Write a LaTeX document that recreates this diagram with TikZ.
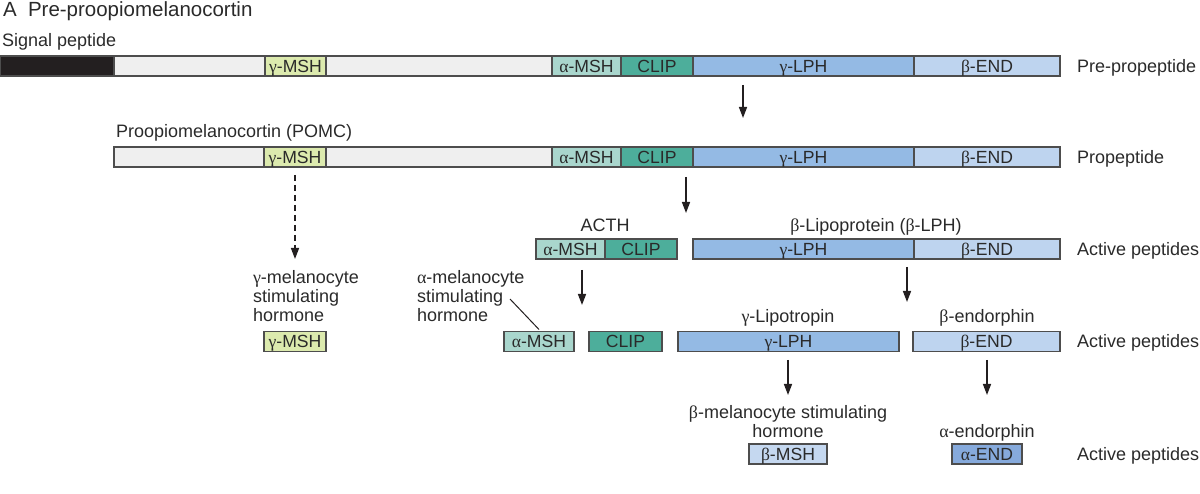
\documentclass[tikz,border=0pt]{standalone}
\usepackage{fontspec}
\setmainfont{Liberation Sans}
\newfontfamily\grkfont{Liberation Serif}
\usetikzlibrary{arrows.meta}
\newcommand\gAl{{\grkfont α}}
\newcommand\gBe{{\grkfont β}}
\newcommand\gGa{{\grkfont γ}}
\definecolor{txt}{HTML}{2A2A2A}
\definecolor{edge}{HTML}{4D4D4D}
\definecolor{sig}{HTML}{231F20}
\definecolor{pro}{HTML}{EFEFEF}
\definecolor{gmsh}{HTML}{DCEAAE}
\definecolor{amsh}{HTML}{A9D6CD}
\definecolor{clip}{HTML}{4DAE9B}
\definecolor{glph}{HTML}{94BAE4}
\definecolor{bend}{HTML}{BED4EF}
\definecolor{bmsh}{HTML}{C5D8F0}
\definecolor{aend}{HTML}{86AADC}
\tikzset{
  seg/.style={draw=edge, line width=1.2pt, minimum height=20pt, inner sep=0pt, outer sep=0pt,
    text height=12.8pt, text depth=0pt, font=\fontsize{17.6}{19}\selectfont, text=txt},
  lbl/.style={font=\fontsize{18}{19}\selectfont, text=txt, inner sep=0pt, outer sep=0pt},
  ttl/.style={font=\fontsize{20.5}{22}\selectfont, text=txt, inner sep=0pt, outer sep=0pt},
  arr/.style={line width=1.5pt, draw=sig, -{Triangle[length=11pt,width=8pt]}},
  darr/.style={arr, dash pattern=on 6pt off 4pt},
  lead/.style={line width=1pt, draw=sig}
}
\begin{document}
\begin{tikzpicture}[x=1pt,y=-1pt]
\useasboundingbox (0,0) rectangle (1200,494);
% title
\node[ttl, anchor=base west] (tA) at (3,17) {A};
\node[ttl, anchor=base west] (tT) at (28,17) {Pre-proopiomelanocortin};
\node[lbl, anchor=base west] (tSig) at (2,47) {Signal peptide};
% bar 1
\node[seg, fill=sig, minimum width=113pt] (sig1) at (57.1,66) {};
\node[seg, fill=pro, minimum width=151pt] (pa1) at (189.5,66) {};
\node[seg, fill=gmsh, minimum width=61pt] (gm1) at (295.5,66) {\gGa-MSH};
\node[seg, fill=pro, minimum width=226pt] (pb1) at (439,66) {};
\node[seg, fill=amsh, minimum width=69pt] (am1) at (586.5,66) {\gAl-MSH};
\node[seg, fill=clip, minimum width=72pt] (cl1) at (657,66) {CLIP};
\node[seg, fill=glph, minimum width=221pt] (gl1) at (803.5,66) {\gGa-LPH};
\node[seg, fill=bend, minimum width=146pt] (be1) at (987,66) {\gBe-END};
\node[lbl, anchor=base west] (r1) at (1077,72.5) {Pre-propeptide};
% arrow 1
\coordinate (a1s) at (743,85);
\coordinate (a1e) at (743,118);
\draw[arr] (a1s) -- (a1e);
% bar 2
\node[lbl, anchor=base west] (tPomc) at (116,138) {Proopiomelanocortin (POMC)};
\node[seg, fill=pro, minimum width=150pt] (pa2) at (189,157) {};
\node[seg, fill=gmsh, minimum width=62pt] (gm2) at (295,157) {\gGa-MSH};
\node[seg, fill=pro, minimum width=226pt] (pb2) at (439,157) {};
\node[seg, fill=amsh, minimum width=69pt] (am2) at (586.5,157) {\gAl-MSH};
\node[seg, fill=clip, minimum width=72pt] (cl2) at (657,157) {CLIP};
\node[seg, fill=glph, minimum width=221pt] (gl2) at (803.5,157) {\gGa-LPH};
\node[seg, fill=bend, minimum width=146pt] (be2) at (987,157) {\gBe-END};
\node[lbl, anchor=base west] (r2) at (1077,163.5) {Propeptide};
% arrows from bar 2
\coordinate (a2s) at (686,177);
\coordinate (a2e) at (686,213);
\draw[arr] (a2s) -- (a2e);
\coordinate (dgs) at (295,175);
\coordinate (dge) at (295,259);
\draw[darr] (dgs) -- (dge);
% row 3
\node[lbl, anchor=base] (tActh) at (605,232) {ACTH};
\node[lbl, anchor=base] (tBlph) at (876,232) {\gBe-Lipoprotein (\gBe-LPH)};
\node[seg, fill=amsh, minimum width=69pt] (am3) at (570.5,249) {\gAl-MSH};
\node[seg, fill=clip, minimum width=72pt] (cl3) at (641,249) {CLIP};
\node[seg, fill=glph, minimum width=221pt] (gl3) at (803.5,249) {\gGa-LPH};
\node[seg, fill=bend, minimum width=146pt] (be3) at (987,249) {\gBe-END};
\node[lbl, anchor=base west] (r3) at (1077,255.5) {Active peptides};
% arrows from row 3
\coordinate (a3s) at (582,270);
\coordinate (a3e) at (582,305);
\draw[arr] (a3s) -- (a3e);
\coordinate (a4s) at (907,267);
\coordinate (a4e) at (907,302);
\draw[arr] (a4s) -- (a4e);
% row 4
\node[lbl, anchor=base west, align=left] (tGmsh) at (253,322) {\gGa-melanocyte\\stimulating\\hormone};
\node[lbl, anchor=base west, align=left] (tAmsh) at (417,322) {\gAl-melanocyte\\[0.5pt]stimulating\\hormone};
\node[lbl, anchor=base] (tGlip) at (788,323) {\gGa-Lipotropin};
\node[lbl, anchor=base] (tBend) at (987,323) {\gBe-endorphin};
\node[seg, fill=gmsh, minimum width=62pt] (gm4) at (295,341.5) {\gGa-MSH};
\node[seg, fill=amsh, minimum width=70pt] (am4) at (539,341.5) {\gAl-MSH};
\node[seg, fill=clip, minimum width=73pt] (cl4) at (625.5,341.5) {CLIP};
\node[seg, fill=glph, minimum width=221pt] (gl4) at (788.5,341.5) {\gGa-LPH};
\node[seg, fill=bend, minimum width=147pt] (be4) at (986.5,341.5) {\gBe-END};
\node[lbl, anchor=base west] (r4) at (1077,348) {Active peptides};
\coordinate (ld) at (510,299);
\draw[lead] (ld) -- ([yshift=2pt]am4.north);
% arrows from row 4
\coordinate (a5s) at (788,360);
\coordinate (a5e) at (788,395);
\draw[arr] (a5s) -- (a5e);
\coordinate (a6s) at (987,360);
\coordinate (a6e) at (987,395);
\draw[arr] (a6s) -- (a6e);
% row 5
\node[lbl, anchor=base, align=center] (tBmsh) at (788,437) {\gBe-melanocyte stimulating\\hormone};
\node[lbl, anchor=base] (tAend) at (987,437) {\gAl-endorphin};
\node[seg, fill=bmsh, minimum width=78pt] (bm5) at (788,454) {\gBe-MSH};
\node[seg, fill=aend, minimum width=70pt] (ae5) at (987,454) {\gAl-END};
\node[lbl, anchor=base west] (r5) at (1077,460.5) {Active peptides};
\end{tikzpicture}
\end{document}
